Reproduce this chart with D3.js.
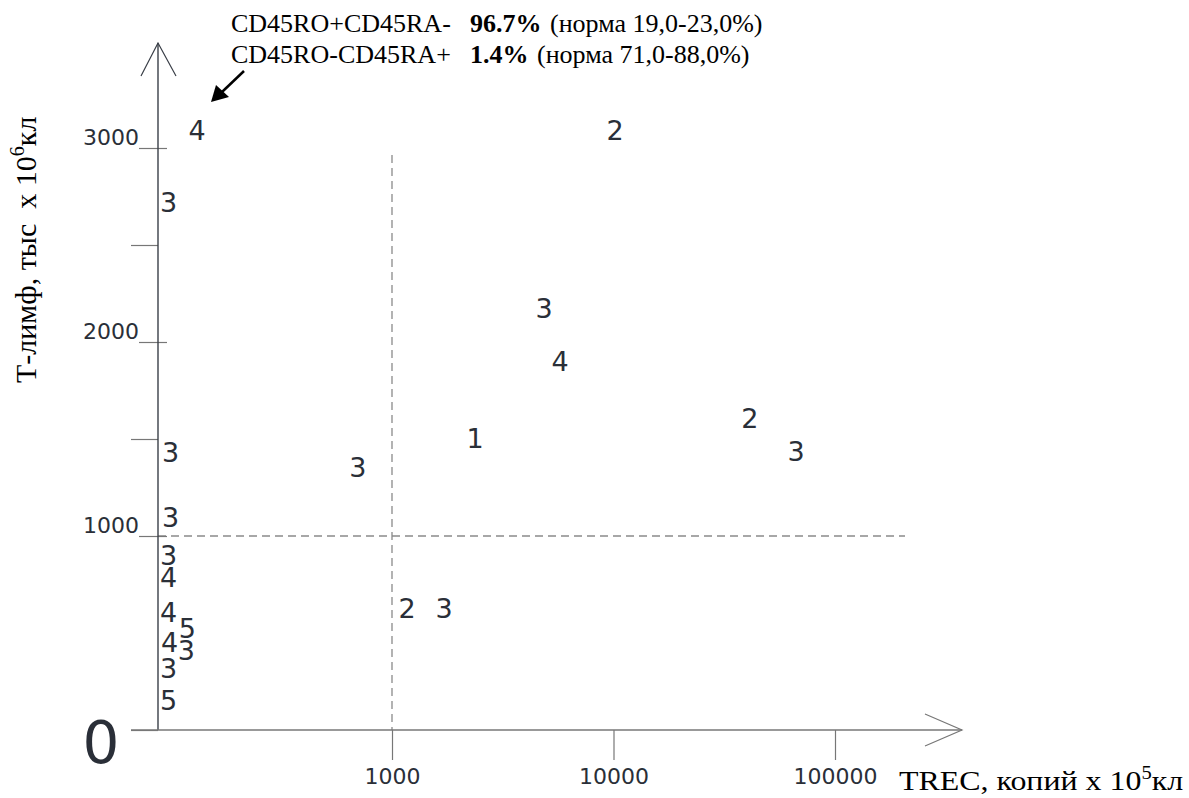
<!DOCTYPE html>
<html>
<head>
<meta charset="utf-8">
<script src="https://cdn.jsdelivr.net/npm/d3@7"></script>
<style>
  body { margin: 0; background: #fff; }
  svg { display: block; }
</style>
</head>
<body>
<svg id="chart" width="1189" height="798"></svg>
<script>
// Patients: TREC (copies per 10^5 cells), T-lymphocytes (thousand per 10^6 cells), group number
const trec   = [132, 98, 100, 100, 98, 98, 98, 119, 99, 118, 98, 98, 702, 2370, 1170, 1720, 10160, 4860, 5740, 41300, 66700];
const tLymph = [3090, 2720, 1430, 1095, 900, 790, 610, 525, 455, 410, 320, 155, 1355, 1505, 630, 630, 3090, 2175, 1900, 1610, 1435];
const groups = ["4", "3", "3", "3", "3", "4", "4", "5", "4", "3", "3", "5", "3", "1", "2", "3", "2", "3", "4", "2", "3"];

const xTickValues = [1000, 10000, 100000];
const yMajorTicks = [1000, 2000, 3000];
const yMinorTicks = [0, 1500, 2500];
const trecNorm = 1000;
const tLymphNorm = 1000;

const noteLines = [
  { label: "CD45RO+CD45RA-", value: "96.7%", norm: "(норма 19,0-23,0%)" },
  { label: "CD45RO-CD45RA+", value: "1.4%",  norm: "(норма 71,0-88,0%)" }
];

const svg = d3.select("#chart");
const ink = "#2a2f38";
const sans = "'DejaVu Sans', Verdana, sans-serif";
const serif = "'Liberation Serif', 'Times New Roman', serif";

const x = d3.scaleLog().domain([1000, 100000]).range([392, 835]);
const y = d3.scaleLinear().domain([0, 3000]).range([730, 148]);

const originX = 158, originY = y(0);

// Norm threshold lines (dashed)
svg.append("line")
  .attr("x1", originX).attr("x2", 905)
  .attr("y1", y(tLymphNorm)).attr("y2", y(tLymphNorm))
  .attr("stroke", "#8a8a8a").attr("stroke-width", 1.3).attr("stroke-dasharray", "8,5");
svg.append("line")
  .attr("x1", x(trecNorm)).attr("x2", x(trecNorm))
  .attr("y1", 155).attr("y2", originY)
  .attr("stroke", "#8a8a8a").attr("stroke-width", 1.3).attr("stroke-dasharray", "8,5");

// X axis
const xAxis = svg.append("g")
  .attr("transform", `translate(0,${originY})`)
  .call(d3.axisBottom(x).tickValues(xTickValues).tickSize(30).tickPadding(8).tickFormat(d3.format("d")));
xAxis.select(".domain").remove();
xAxis.selectAll(".tick line").attr("stroke", "#777").attr("stroke-width", 1.2);
xAxis.selectAll(".tick text")
  .attr("fill", ink).style("font-family", sans).style("font-size", "22px");

// Y axis: labelled ticks crossing the axis
const yAxis = svg.append("g")
  .attr("transform", `translate(${originX},0)`)
  .call(d3.axisLeft(y).tickValues(yMajorTicks).tickSize(19).tickPadding(0).tickFormat(d3.format("d")));
yAxis.select(".domain").remove();
yAxis.selectAll(".tick line").attr("x1", 9).attr("stroke", "#777").attr("stroke-width", 1.2);
yAxis.selectAll(".tick text")
  .attr("x", -19).attr("dy", "-0.15em")
  .attr("fill", ink).style("font-family", sans).style("font-size", "22px");

// Y axis: unlabelled ticks
const yMinor = svg.append("g")
  .attr("transform", `translate(${originX},0)`)
  .call(d3.axisLeft(y).tickValues(yMinorTicks).tickSize(27).tickFormat(""));
yMinor.select(".domain").remove();
yMinor.selectAll(".tick line").attr("stroke", "#777").attr("stroke-width", 1.2);

// Axis lines with open arrow heads
svg.append("line").attr("x1", originX).attr("x2", originX).attr("y1", originY).attr("y2", 43)
  .attr("stroke", "#3a3f48").attr("stroke-width", 1.4);
svg.append("path").attr("d", `M${originX - 17},76 L${originX},43 L${originX + 18},76`)
  .attr("fill", "none").attr("stroke", "#3a3f48").attr("stroke-width", 1.2);
svg.append("line").attr("x1", 131).attr("x2", 962).attr("y1", originY).attr("y2", originY)
  .attr("stroke", "#777").attr("stroke-width", 1.4);
svg.append("path").attr("d", `M925,714 L962,${originY} L925,746`)
  .attr("fill", "none").attr("stroke", "#777").attr("stroke-width", 1.2);

// Origin label
svg.append("text").attr("x", 101).attr("y", 763).attr("text-anchor", "middle")
  .attr("fill", ink).style("font-family", sans).style("font-size", "58px").text("0");

// Patient group numbers
svg.append("g").selectAll("text")
  .data(groups)
  .join("text")
  .attr("x", (d, i) => x(trec[i]))
  .attr("y", (d, i) => y(tLymph[i]))
  .attr("dy", "0.365em")
  .attr("text-anchor", "middle")
  .attr("fill", ink)
  .style("font-family", sans)
  .style("font-size", "27px")
  .text(d => d);

// Axis titles
const xTitle = svg.append("text")
  .attr("transform", "translate(899,790) scale(1.14,1)")
  .attr("fill", "#000").style("font-family", serif).style("font-size", "28px");
xTitle.append("tspan").text("TREC, копий х 10");
xTitle.append("tspan").attr("dy", -11).style("font-size", "18px").text("5");
xTitle.append("tspan").attr("dy", 11).text("кл");

const yTitle = svg.append("text")
  .attr("transform", "translate(36,383) rotate(-90)")
  .attr("fill", "#000").style("font-family", serif).style("font-size", "30px")
  .style("white-space", "pre");
yTitle.append("tspan").text("Т-лимф, тыс  х 10");
yTitle.append("tspan").attr("dy", -12).style("font-size", "20px").text("6");
yTitle.append("tspan").attr("dy", 12).text("кл");

// Phenotype note with pointer arrow
const noteValueX = 470;
const noteNormX = [550, 537];
const note = svg.append("g").style("font-family", serif).style("font-size", "26px").attr("fill", "#000");
noteLines.forEach((d, i) => {
  const baseY = 32 + i * 31;
  note.append("text").attr("x", 231).attr("y", baseY).text(d.label);
  note.append("text").attr("x", noteValueX).attr("y", baseY).style("font-weight", "bold").text(d.value);
  note.append("text").attr("x", noteNormX[i]).attr("y", baseY).text(d.norm);
});
svg.append("line").attr("x1", 244).attr("y1", 71).attr("x2", 222).attr("y2", 92)
  .attr("stroke", "#000").attr("stroke-width", 2.5);
svg.append("path").attr("d", "M211,102 L216,85 L229,97 Z").attr("fill", "#000");
</script>
</body>
</html>
